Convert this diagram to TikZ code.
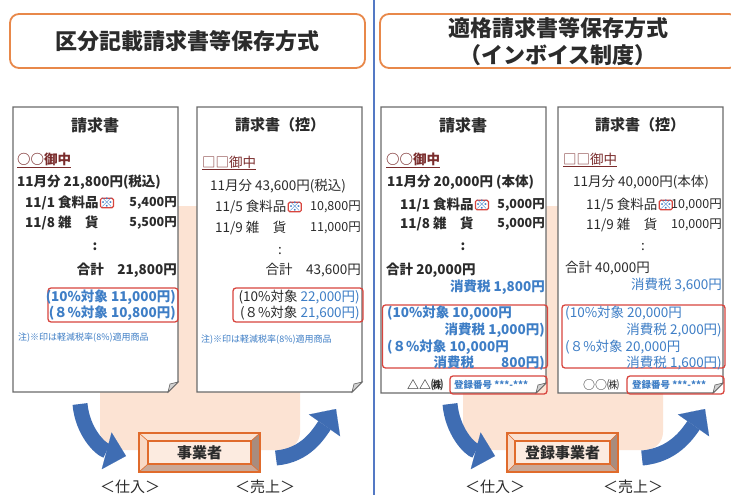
\documentclass[tikz,border=0pt]{standalone}
\usepackage{fontspec}
\setmainfont{Noto Sans CJK JP}
\usetikzlibrary{arrows.meta,positioning}
\definecolor{ttl}{HTML}{E8884A}
\definecolor{divb}{HTML}{5479C4}
\definecolor{beige}{HTML}{FCE3D3}
\definecolor{redb}{HTML}{D8453E}
\definecolor{bt}{HTML}{3E7EC6}
\definecolor{ink}{HTML}{2B2B2B}
\definecolor{nm}{HTML}{7A2C2C}
\definecolor{arr}{HTML}{3F6DB3}
\definecolor{papr}{HTML}{6A6A6A}
\definecolor{orng}{HTML}{E06B2C}
\definecolor{bvtop}{HTML}{FBE2D2}
\definecolor{bvleft}{HTML}{F8D9C6}
\definecolor{bvright}{HTML}{A88C7E}
\definecolor{bvbot}{HTML}{C9A897}
\definecolor{bvface}{HTML}{FCEBE0}
\newcommand\docpaper[4]{%
  \draw[paper] (#1,#2) -- (#3,#2) -- (#3,#4-10) -- (#3-10,#4) -- (#1,#4) -- cycle;
  \filldraw[fold] (#3,#4-10) -- (#3-10,#4) -- (#3-8,#4-8) -- cycle;}
\newcommand\bevelbox[8]{%
  \fill[bvtop] (#2,#3) -- (#4,#3) -- (#4-#6,#3+#7) -- (#2+#6,#3+#7) -- cycle;
  \fill[bvleft] (#2,#3) -- (#2+#6,#3+#7) -- (#2+#6,#5-#7) -- (#2,#5) -- cycle;
  \fill[bvright] (#4,#3) -- (#4,#5) -- (#4-#6,#5-#7) -- (#4-#6,#3+#7) -- cycle;
  \fill[bvbot] (#2,#5) -- (#2+#6,#5-#7) -- (#4-#6,#5-#7) -- (#4,#5) -- cycle;
  \draw[orng, line width=0.6pt] (#2,#3) -- (#2+#6,#3+#7) (#4,#3) -- (#4-#6,#3+#7)
        (#2,#5) -- (#2+#6,#5-#7) (#4,#5) -- (#4-#6,#5-#7);
  \draw[orng, line width=1.4pt, fill=bvface] (#2+#6,#3+#7) rectangle (#4-#6,#5-#7);
  \draw[orng, line width=2.2pt] (#2,#3) rectangle (#4,#5);
  \node[font=\fontsize{15}{17}\selectfont\bfseries, text=ink, inner sep=0pt] (#1) at ({(#2+#4)/2},{(#3+#5)/2}) {#8};}
\begin{document}
\begin{tikzpicture}[x=1pt,y=-1pt,
  t/.style={inner sep=0pt, text=ink, font=\fontsize{13.5}{16}\selectfont},
  tb/.style={t, font=\fontsize{13.5}{16}\selectfont\bfseries},
  tl/.style={t, font=\fontsize{13.5}{16}\selectfont},
  amb/.style={t, font=\fontsize{12.5}{15}\selectfont\bfseries},
  aml/.style={t, font=\fontsize{12.5}{15}\selectfont},
  bl/.style={text=bt},
  hd/.style={inner sep=0pt, text=ink, font=\fontsize{16}{18}\selectfont\bfseries},
  hdl/.style={inner sep=0pt, text=ink, font=\fontsize{15}{18}\selectfont\bfseries},
  note/.style={inner sep=0pt, text=bt, font=\fontsize{9}{10}\selectfont},
  regt/.style={inner sep=0pt, text=bt, font=\fontsize{9.5}{11}\selectfont\bfseries},
  cmp/.style={inner sep=0pt, text=ink, font=\fontsize{12}{14}\selectfont},
  rbox/.style={draw=redb, line width=1.3pt, rounded corners=3pt, inner sep=0pt},
  kome/.style={draw=redb, line width=1.2pt, rounded corners=1.5pt, inner sep=0pt, text=bt, font=\fontsize{13}{14}\selectfont},
  paper/.style={draw=papr, line width=1.1pt, fill=white},
  fold/.style={draw=papr, line width=0.7pt, fill=gray!35},
  tbox/.style={draw=ttl, line width=1.8pt, rounded corners=9pt, fill=white, inner sep=0pt},
  ttxt/.style={text=ink, font=\fontsize{22}{27}\selectfont\bfseries, align=center},
  barrow/.style={draw=arr, line width=15pt, -{Triangle[width=38pt,length=20pt,line width=0.1pt]}},
  lab/.style={inner sep=0pt, text=ink, font=\fontsize{15}{17}\selectfont}]
\useasboundingbox (0,0) rectangle (731,495);
\fill[white] (0,0) rectangle (731,495);

% beige backgrounds
\fill[beige, rounded corners=18pt] (100,206) rectangle (300,450);
\fill[beige, rounded corners=18pt] (463,206) rectangle (663,450);

% divider
\draw[divb, line width=1.5pt] (374,0) -- (374,495);

% titles
\node[tbox, minimum width=355pt, minimum height=54pt] (t1) at (187.5,41) {};
\node[ttxt] (t1x) at (187.5,41) {区分記載請求書等保存方式};
\node[tbox, minimum width=358pt, minimum height=54pt] (t2) at (559,41) {};
\node[ttxt] (t2x) at (558,42) {適格請求書等保存方式\\（インボイス制度）};

% ---------- left doc 1
\docpaper{13}{107}{178}{392}
\node[hd] (h1) at (95,125) {請求書};
\node[tb, text=nm, anchor=west] (m1) at (17,160) {\underline{○○御中}};
\node[tb, anchor=west] (a1) at (17,182) {11月分 21,800円(税込)};
\node[tb, anchor=west] (b1) at (25,203) {11/1 食料品};
\node[kome, right=1pt of b1] (k1) {※};
\node[amb, anchor=east] (c1) at (177,203) {5,400円};
\node[tb, anchor=west] (d1) at (25,223) {11/8 雑　貨};
\node[amb, anchor=east] (e1) at (177,223) {5,500円};
\node[tb] (f1) at (95,247) {:};
\node[tb, anchor=east] (g1) at (177,270) {合計　21,800円};
\node[rbox, minimum width=130pt, minimum height=34pt] (r1) at (113,305) {};
\node[tb, bl, anchor=east] (p1) at (176,297) {(10\%対象 11,000円)};
\node[tb, bl, anchor=east] (q1) at (176,313) {(８\%対象 10,800円)};
\node[note, anchor=west] (n1) at (18,338) {注)※印は軽減税率(8\%)適用商品};

% ---------- left doc 2
\docpaper{197}{107}{362}{392}
\node[hdl] (h2) at (280,125) {請求書（控）};
\node[tl, text=nm, anchor=west] (m2) at (202,163) {\underline{□□御中}};
\node[tl, anchor=west] (a2) at (210,186) {11月分 43,600円(税込)};
\node[tl, anchor=west] (b2) at (215,207) {11/5 食料品};
\node[kome, right=1pt of b2] (k2) {※};
\node[aml, anchor=east] (c2) at (361,207) {10,800円};
\node[tl, anchor=west] (d2) at (215,228) {11/9 雑　貨};
\node[aml, anchor=east] (e2) at (361,228) {11,000円};
\node[tl] (f2) at (280,251) {:};
\node[tl, anchor=east] (g2) at (361,270) {合計　43,600円};
\node[rbox, minimum width=130pt, minimum height=34pt] (r2) at (298,305) {};
\node[tl, anchor=east] (p2) at (360,297) {(10\%対象 \textcolor{bt}{22,000円)}};
\node[tl, anchor=east] (q2) at (360,313) {(８\%対象 \textcolor{bt}{21,600円)}};
\node[note, anchor=west] (n2) at (201,340) {注)※印は軽減税率(8\%)適用商品};

% ---------- right doc 1
\docpaper{381}{107}{546}{393}
\node[hd] (h3) at (463,125) {請求書};
\node[tb, text=nm, anchor=west] (m3) at (386,160) {\underline{○○御中}};
\node[tb, anchor=west] (a3) at (387,182) {11月分 20,000円 (本体)};
\node[tb, anchor=west] (b3) at (400,205) {11/1 食料品};
\node[kome, right=1pt of b3] (k3) {※};
\node[amb, anchor=east] (c3) at (545,205) {5,000円};
\node[tb, anchor=west] (d3) at (400,224) {11/8 雑　貨};
\node[amb, anchor=east] (e3) at (545,224) {5,000円};
\node[tb] (f3) at (463,247) {:};
\node[tb, anchor=west] (g3) at (386,270) {合計 20,000円};
\node[tb, bl, anchor=east] (s3) at (545,287) {消費税 1,800円};
\node[rbox, minimum width=165pt, minimum height=63pt] (r3) at (465,336.5) {};
\node[tb, bl, anchor=west] (p3) at (387,313) {(10\%対象 10,000円};
\node[tb, bl, anchor=east] (p3b) at (545,330) {消費税 1,000円)};
\node[tb, bl, anchor=west] (q3) at (387,347) {(８\%対象 10,000円};
\node[tb, bl, anchor=east] (q3b) at (545,363) {消費税　　800円)};
\node[cmp, font=\fontsize{12}{14}\selectfont\bfseries] (co3) at (425,385) {△△㈱};
\node[rbox, minimum width=97pt, minimum height=18pt] (rg3) at (498.5,385) {};
\node[regt, anchor=west] (rt3) at (454,385) {登録番号 ***-***};

% ---------- right doc 2
\docpaper{558}{107}{723}{393}
\node[hdl] (h4) at (640,125) {請求書（控）};
\node[tl, text=nm, anchor=west] (m4) at (563,160) {\underline{□□御中}};
\node[tl, anchor=west] (a4) at (573,182) {11月分 40,000円(本体)};
\node[tl, anchor=west] (b4) at (586,205) {11/5 食料品};
\node[kome, right=1pt of b4] (k4) {※};
\node[aml, anchor=east] (c4) at (722,205) {10,000円};
\node[tl, anchor=west] (d4) at (586,225) {11/9 雑　貨};
\node[aml, anchor=east] (e4) at (722,225) {10,000円};
\node[tl] (f4) at (643,247) {:};
\node[tl, anchor=west] (g4) at (565,268) {合計 40,000円};
\node[tl, bl, anchor=east] (s4) at (722,285) {消費税 3,600円};
\node[rbox, minimum width=163pt, minimum height=63pt] (r4) at (643.5,336.5) {};
\node[tl, bl, anchor=west] (p4) at (565,313) {(10\%対象 20,000円};
\node[tl, bl, anchor=east] (p4b) at (722,330) {消費税 2,000円)};
\node[tl, bl, anchor=west] (q4) at (565,347) {(８\%対象 20,000円};
\node[tl, bl, anchor=east] (q4b) at (722,363) {消費税 1,600円)};
\node[cmp] (co4) at (601,385) {○○㈱};
\node[rbox, minimum width=97pt, minimum height=18pt] (rg4) at (675.5,385) {};
\node[regt, anchor=west] (rt4) at (632,385) {登録番号 ***-***};

% ---------- bevel boxes
\bevelbox{biz1}{139}{433}{260}{472}{9}{8}{事業者}
\bevelbox{biz2}{507}{433}{618}{472}{8}{8}{登録事業者}

% ---------- arrows
\coordinate (la1) at (80,404);  \coordinate (la2) at (126,456);
\coordinate (ra1) at (276,458); \coordinate (ra2) at (336,409);
\coordinate (lb1) at (450,404); \coordinate (lb2) at (495,456);
\coordinate (rb1) at (642,458); \coordinate (rb2) at (705,409);
\draw[barrow] (la1) to[out=-85,in=165] (la2);
\draw[barrow] (ra1) to[out=5,in=-125] (ra2);
\draw[barrow] (lb1) to[out=-85,in=165] (lb2);
\draw[barrow] (rb1) to[out=5,in=-125] (rb2);

% ---------- labels
\node[lab] (l1) at (130,487) {＜仕入＞};
\node[lab] (l2) at (265,487) {＜売上＞};
\node[lab] (l3) at (495,487) {＜仕入＞};
\node[lab] (l4) at (633,487) {＜売上＞};
\end{tikzpicture}
\end{document}
